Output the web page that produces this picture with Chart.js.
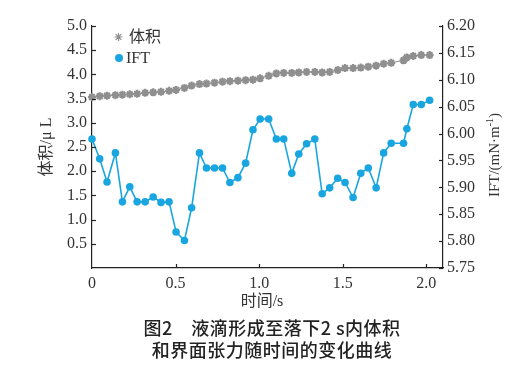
<!DOCTYPE html>
<html><head><meta charset="utf-8">
<script src="https://cdn.jsdelivr.net/npm/chart.js@4.4.0/dist/chart.umd.min.js"></script>
<style>
html,body{margin:0;padding:0;background:#fff;}
#wrap{position:relative;width:516px;height:368px;overflow:hidden;}
canvas{position:absolute;left:0;top:0;}
.cap{position:absolute;left:14px;width:516px;text-align:center;font-family:"Noto Sans CJK SC",sans-serif;font-size:18px;line-height:22px;color:#222;font-weight:500;white-space:pre;letter-spacing:0.5px;}
</style></head><body>
<div id="wrap"><canvas id="c" width="516" height="368"></canvas>
<div class="cap" style="top:316px">图2　液滴形成至落下2 s内体积</div>
<div class="cap" style="top:338px">和界面张力随时间的变化曲线</div>
</div>
<script>
// time (s)
const timeS = [0.000,0.046,0.090,0.140,0.182,0.226,0.270,0.318,0.366,0.413,0.461,0.503,0.553,0.596,0.643,0.685,0.733,0.781,0.825,0.873,0.919,0.963,1.006,1.057,1.103,1.147,1.195,1.237,1.284,1.333,1.377,1.422,1.470,1.514,1.562,1.608,1.653,1.700,1.745,1.790,1.864,1.884,1.922,1.970,2.020];
// volume (μL)
const volume = [3.53,3.55,3.56,3.57,3.58,3.59,3.60,3.62,3.63,3.64,3.66,3.68,3.72,3.77,3.80,3.81,3.83,3.85,3.86,3.87,3.88,3.89,3.92,3.97,4.02,4.03,4.03,4.04,4.05,4.05,4.04,4.05,4.09,4.13,4.13,4.14,4.16,4.18,4.22,4.24,4.29,4.35,4.38,4.40,4.40];
// IFT (mN/m)
const ift = [5.990,5.953,5.910,5.964,5.873,5.901,5.873,5.873,5.882,5.872,5.873,5.817,5.801,5.862,5.964,5.936,5.936,5.936,5.909,5.918,5.945,6.007,6.027,6.027,5.990,5.990,5.926,5.962,5.981,5.990,5.888,5.899,5.917,5.909,5.881,5.926,5.936,5.899,5.964,5.982,5.982,6.009,6.054,6.054,6.062];
const seriesNames = ['体积','IFT'];
const axisTitles = {x:'时间/s', y:'体积/μ L', y2:'IFT/(mN·m', y2sup:'-1', y2end:')'};

const SERIF = '"Liberation Serif","Times New Roman","Noto Sans CJK SC",serif';
const GRAY = '#8f8f8f', BLUE = '#19a6e0', AX = '#222', TXT = '#333';

const inward = {
  id:'inward',
  afterDraw(chart){
    const ctx = chart.ctx, ca = chart.chartArea, L = 4;
    ctx.save();
    ctx.strokeStyle = AX; ctx.lineWidth = 1.2;
    const seg=(a,b,c,d)=>{ctx.beginPath();ctx.moveTo(a,b);ctx.lineTo(c,d);ctx.stroke();};
    const sy = chart.scales.y, sy2 = chart.scales.y2, sx = chart.scales.x;
    sy.ticks.forEach(t=>{ if(t.value===0) return; const p=Math.round(sy.getPixelForValue(t.value))+0.5; seg(ca.left,p,ca.left+L,p); });
    sy2.ticks.forEach(t=>{ const p=Math.round(sy2.getPixelForValue(t.value))+0.5; seg(ca.right,p,ca.right-L,p); });
    sx.ticks.forEach(t=>{ if(t.value===0) return; const p=Math.round(sx.getPixelForValue(t.value))+0.5; seg(p,ca.bottom,p,ca.bottom-L); });

    // legend
    const ds = chart.data.datasets;
    ctx.fillStyle = GRAY; ctx.strokeStyle = GRAY;
    Chart.helpers.drawPoint(ctx,{pointStyle:'star',radius:4,borderWidth:2.2},118.5,37);
    ctx.fillStyle = BLUE; ctx.strokeStyle = BLUE;
    Chart.helpers.drawPoint(ctx,{pointStyle:'circle',radius:4,borderWidth:0},119,58);
    ctx.fillStyle = TXT; ctx.textBaseline='middle'; ctx.textAlign='left';
    ctx.font = '16px '+SERIF;
    ctx.fillText(ds[0].label,129,38);
    ctx.fillText(ds[1].label,126,59);

    // axis titles
    ctx.textAlign='center';
    ctx.fillText(axisTitles.x, 262, 302);
    ctx.save(); ctx.translate(47,147); ctx.rotate(-Math.PI/2); ctx.fillText(axisTitles.y,0,0); ctx.restore();
    ctx.save(); ctx.translate(495,155); ctx.rotate(-Math.PI/2);
    ctx.font='15px '+SERIF;
    const w1=ctx.measureText(axisTitles.y2).width, w3=ctx.measureText(axisTitles.y2end).width;
    ctx.font='10px '+SERIF; const w2=ctx.measureText(axisTitles.y2sup).width;
    let x0=-(w1+w2+w3)/2; ctx.textAlign='left';
    ctx.font='15px '+SERIF; ctx.fillText(axisTitles.y2,x0,0);
    ctx.font='10px '+SERIF; ctx.fillText(axisTitles.y2sup,x0+w1,-5);
    ctx.font='15px '+SERIF; ctx.fillText(axisTitles.y2end,x0+w1+w2,0);
    ctx.restore();
    ctx.restore();
  }
};

const tickFont = {family:SERIF,size:16};
new Chart(document.getElementById('c'),{
  type:'line',
  data:{datasets:[
    {label:seriesNames[0], data:timeS.map((t,i)=>({x:t,y:volume[i]})), yAxisID:'y',
     borderColor:GRAY, backgroundColor:GRAY, borderWidth:1, pointStyle:'star', pointRadius:4,
     pointBorderWidth:2.2, pointBorderColor:GRAY, clip:false},
    {label:seriesNames[1], data:timeS.map((t,i)=>({x:t,y:ift[i]})), yAxisID:'y2',
     borderColor:BLUE, backgroundColor:BLUE, borderWidth:1.6, pointStyle:'circle', pointRadius:3.8,
     pointBorderWidth:0, clip:false}
  ]},
  options:{
    responsive:false, animation:false,
    layout:{padding:{top:26,bottom:60,left:0,right:0}},
    plugins:{legend:{display:false},tooltip:{enabled:false}},
    scales:{
      x:{type:'linear',min:0,max:2.1,grid:{display:false,drawTicks:false},border:{display:true,color:AX,width:1.2},
         ticks:{stepSize:0.5,includeBounds:false,padding:6,color:TXT,font:tickFont,maxRotation:0,
                callback:v=>v===0?'0':v.toFixed(1)},
         afterFit:s=>{s.height=40;}},
      y:{position:'left',min:0,max:5,grid:{display:false,drawTicks:false},border:{display:true,color:AX,width:1.2},
         ticks:{stepSize:0.5,padding:5,color:TXT,font:tickFont,callback:v=>v===0?'':v.toFixed(1)},
         afterFit:s=>{s.width=92;}},
      y2:{position:'right',min:5.75,max:6.2,grid:{display:false,drawTicks:false},border:{display:true,color:AX,width:1.2},
         ticks:{stepSize:0.05,padding:4,color:TXT,font:tickFont,callback:v=>v.toFixed(2)},
         afterFit:s=>{s.width=73;}}
    }
  },
  plugins:[inward]
});
</script>
</body></html>
